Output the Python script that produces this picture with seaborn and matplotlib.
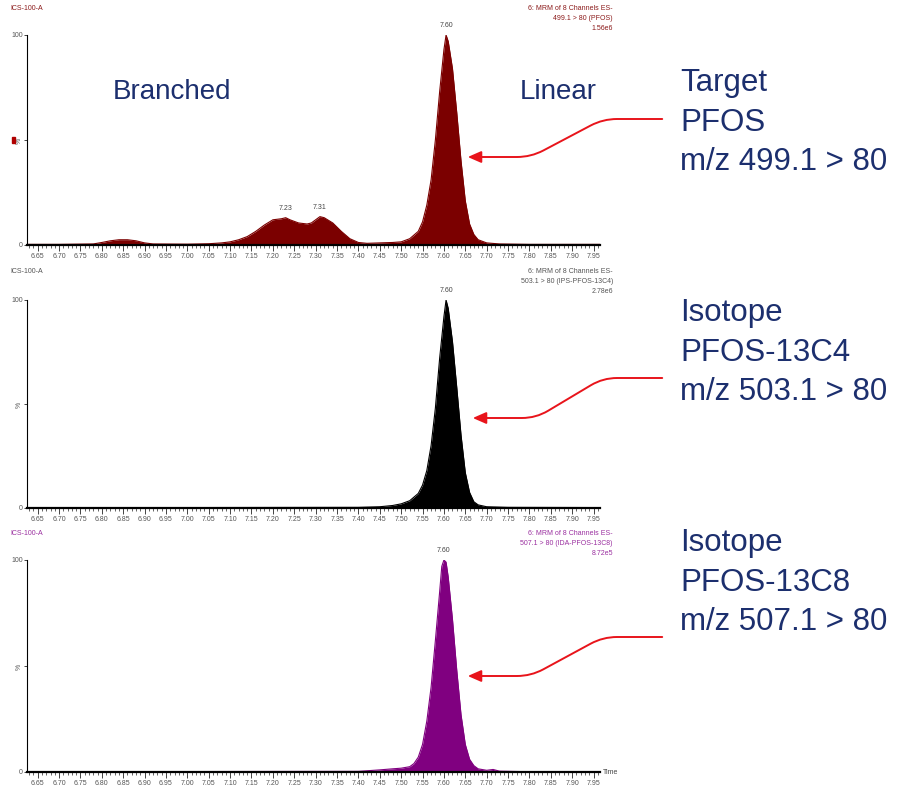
"""
PFOS MRM chromatograms: target + two labelled isotopes
"""
import numpy as np
import pandas as pd
import matplotlib
matplotlib.use('Agg')
import matplotlib.pyplot as plt
from matplotlib.ticker import MultipleLocator
import seaborn as sns

# retention time (min) / relative intensity (%)
pfos_time = [6.625, 6.70, 6.78, 6.80, 6.82, 6.84, 6.86, 6.88, 6.90, 6.92,
             7.00, 7.05, 7.08, 7.10, 7.12, 7.14, 7.16, 7.18, 7.20, 7.22,
             7.23, 7.24, 7.26, 7.28, 7.29, 7.30, 7.31, 7.32, 7.34, 7.36,
             7.38, 7.40, 7.42, 7.45, 7.48, 7.50, 7.52, 7.54, 7.55, 7.56,
             7.57, 7.58, 7.59, 7.60, 7.605, 7.61, 7.62, 7.63, 7.64, 7.65,
             7.66, 7.67, 7.68, 7.70, 7.73, 7.80, 7.90, 7.965]
pfos_int = [0.3, 0.3, 0.5, 1.2, 2.0, 2.5, 2.5, 2.0, 1.0, 0.5,
            0.4, 0.6, 1.0, 1.5, 2.5, 4.0, 6.5, 9.5, 12.0, 12.5,
            13.0, 12.0, 10.5, 10.0, 10.5, 12.0, 13.5, 13.0, 10.5, 6.5,
            3.0, 1.2, 0.8, 1.0, 1.2, 1.5, 3.0, 6.5, 11.0, 19.0,
            31.0, 50.0, 73.0, 93.0, 100.0, 97.0, 84.0, 63.0, 40.0, 21.0,
            10.0, 5.0, 2.5, 1.0, 0.5, 0.3, 0.3, 0.3]

c4_time = [6.625, 7.00, 7.40, 7.45, 7.48, 7.50, 7.52, 7.54, 7.55, 7.56,
           7.57, 7.58, 7.59, 7.60, 7.605, 7.61, 7.62, 7.63, 7.64, 7.65,
           7.66, 7.67, 7.68, 7.70, 7.75, 7.965]
c4_int = [0.2, 0.2, 0.3, 0.6, 1.2, 2.0, 3.5, 7.0, 11.0, 18.0,
          30.0, 48.0, 72.0, 92.0, 100.0, 96.0, 80.0, 58.0, 35.0, 17.0,
          7.5, 3.0, 1.5, 0.6, 0.3, 0.2]

c8_time = [6.625, 7.00, 7.40, 7.45, 7.48, 7.50, 7.52, 7.53, 7.54, 7.55,
           7.56, 7.57, 7.58, 7.59, 7.595, 7.60, 7.605, 7.61, 7.62, 7.63,
           7.64, 7.65, 7.66, 7.67, 7.68, 7.70, 7.715, 7.73, 7.78, 7.965]
c8_int = [0.2, 0.2, 0.3, 1.0, 1.5, 1.8, 2.5, 4.0, 7.0, 13.0,
          24.0, 40.0, 62.0, 85.0, 97.0, 100.0, 99.0, 92.0, 72.0, 48.0,
          27.0, 13.0, 6.0, 3.0, 1.5, 0.8, 1.2, 0.4, 0.2, 0.2]

trace_colors = ['#7b0000', '#000000', '#800080']
header_colors = ['#8b1a1a', '#555555', '#9b30a0']
channel_info = ['6: MRM of 8 Channels ES-\n499.1 > 80 (PFOS)\n1.56e6',
                '6: MRM of 8 Channels ES-\n503.1 > 80 (IPS-PFOS-13C4)\n2.78e6',
                '6: MRM of 8 Channels ES-\n507.1 > 80 (IDA-PFOS-13C8)\n8.72e5']
# (time of apex in the data, text shown)
peak_labels = [[(7.23, '7.23'), (7.31, '7.31'), (7.605, '7.60')],
               [(7.605, '7.60')],
               [(7.60, '7.60')]]
side_labels = ['Target\nPFOS\nm/z 499.1 > 80',
               'Isotope\nPFOS-13C4\nm/z 503.1 > 80',
               'Isotope\nPFOS-13C8\nm/z 507.1 > 80']

sns.set_style('white')
plt.rcParams['font.family'] = ['Liberation Sans', 'DejaVu Sans']
narrow = ['Liberation Sans Narrow', 'Liberation Sans', 'DejaVu Sans']

W, H = 907, 787
fig = plt.figure(figsize=(W / 100, H / 100), dpi=100)

# axes boxes in image pixels: (left, top(100%), right, bottom(0%))
boxes = [(27, 35, 600, 245), (27, 300, 600, 508), (27, 560, 600, 772)]
traces = [(pfos_time, pfos_int), (c4_time, c4_int), (c8_time, c8_int)]
header_y = [5, 268, 530]
side_top = [68, 298, 528]
arrow_from = [(665, 119), (665, 378), (665, 637)]
arrow_to = [(465, 157), (470, 418), (465, 676)]
navy = '#1c2f6e'
red = '#e8141b'

for k, ((l, t, r, b), (tt, ii)) in enumerate(zip(boxes, traces)):
    ax = fig.add_axes([l / W, 1 - b / H, (r - l) / W, (b - t) / H])
    df = pd.DataFrame({'time': tt, 'intensity': ii})
    sns.lineplot(data=df, x='time', y='intensity', ax=ax,
                 color=trace_colors[k], lw=0.8)
    ax.fill_between(df['time'], df['intensity'], color=trace_colors[k], lw=0)
    ax.set_xlim(6.625, 7.965)
    ax.set_ylim(0, 100)
    ax.set_xlabel('')
    ax.set_ylabel('')
    for s in ['top', 'right']:
        ax.spines[s].set_visible(False)
    ax.spines['left'].set_linewidth(0.8)
    ax.spines['bottom'].set_linewidth(1.6)
    ax.spines['left'].set_color('black')
    ax.spines['bottom'].set_color('black')
    ax.xaxis.set_minor_locator(MultipleLocator(0.01))
    ticks = np.arange(6.65, 7.96, 0.05)
    ax.set_xticks(ticks)
    ax.set_xticklabels([f'{v:.2f}' for v in ticks],
                       fontsize=5, color='#555555', family=narrow)
    ax.tick_params(axis='x', which='major', length=4, width=0.6,
                   direction='out', pad=2, bottom=True)
    ax.tick_params(axis='x', which='minor', length=2.5, width=0.5,
                   direction='out', bottom=True)
    ax.set_yticks([0, 50, 100])
    ax.set_yticklabels(['0', '%', '100'], fontsize=5, color='#555555',
                       family=narrow)
    ax.tick_params(axis='y', length=2, width=0.6, direction='out', pad=1, left=True)
    ax.get_yticklabels()[1].set_rotation(90)

    # peak retention time labels
    for p, txt in peak_labels[k]:
        j = int(np.argmin(np.abs(np.array(tt) - p)))
        ax.annotate(txt, (tt[j], ii[j]), xytext=(0, 4),
                    textcoords='offset points', ha='center', va='bottom',
                    fontsize=5, color='#444444', family=narrow,
                    annotation_clip=False)

    # instrument header texts
    fig.text(10 / W, 1 - header_y[k] / H, 'ICS-100-A', ha='left', va='top',
             fontsize=5, color=header_colors[k], family=narrow)
    fig.text(613 / W, 1 - header_y[k] / H, channel_info[k], ha='right', va='top',
             fontsize=5, color=header_colors[k], family=narrow, linespacing=1.6)

    # side label + curved red arrow
    fig.text(680 / W, 1 - side_top[k] / H, side_labels[k], ha='left', va='top',
             fontsize=22.5, color=navy, linespacing=1.42)
    fx, fy = arrow_from[k]
    tx, ty = arrow_to[k]
    ax.annotate('', xy=(tx, H - ty), xycoords='figure pixels',
                xytext=(fx, H - fy), textcoords='figure pixels',
                arrowprops=dict(arrowstyle='-|>,head_length=0.8,head_width=0.35',
                                color=red, lw=1.4,
                                connectionstyle='arc,angleA=180,armA=62,angleB=0,armB=66,rad=14'))

fig.text(172 / W, 1 - 92 / H, 'Branched', ha='center', va='center',
         fontsize=20, color=navy)
fig.text(558 / W, 1 - 92 / H, 'Linear', ha='center', va='center',
         fontsize=20, color=navy)
fig.text(603 / W, 1 - 773 / H, 'Time', ha='left', va='center', fontsize=5,
         color='#444444', family=narrow)

# small red marker left of the first axis
fig.patches.append(plt.Rectangle((12 / W, 1 - 143 / H), 3 / W, 6 / H,
                                 transform=fig.transFigure, color='#b00000'))

fig.savefig('out.png', dpi=100)
